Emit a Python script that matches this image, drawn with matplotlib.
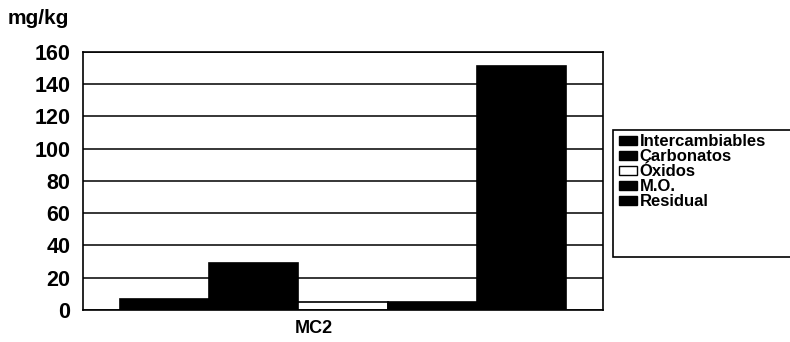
import matplotlib
matplotlib.use("Agg")
import matplotlib.pyplot as plt
from matplotlib.patches import Rectangle, Patch

plt.rcParams['font.family'] = ['Liberation Sans', 'DejaVu Sans']

# fracciones de extraccion secuencial, muestra MC2
categoria = "MC2"
fracciones = ["Intercambiables", "Carbonatos", "Óxidos", "M.O.", "Residual"]
valores = [7, 29, 5, 5, 151]
colores = ["black", "black", "white", "black", "black"]
yticks = [0, 20, 40, 60, 80, 100, 120, 140, 160]

fig = plt.figure(figsize=(7.9, 3.42), dpi=100)
ax = fig.add_axes([0.1051, 0.0936, 0.6582, 0.7544])

ax.set_axisbelow(True)
ax.yaxis.grid(True, color="black", linewidth=1.1)
for i, (v, c) in enumerate(zip(valores, colores)):
    ax.bar(i, v, width=1.0, color=c, edgecolor="black", linewidth=1.2,
           label=fracciones[i])

ax.set_xlim(-0.916, 4.916)
ax.set_ylim(0, 160)
ax.set_yticks(yticks)
ax.set_yticklabels([str(t) for t in yticks], fontsize=15.5, fontweight="bold")
ax.set_xticks([1.67])
ax.set_xticklabels([categoria], fontsize=13, fontweight="bold")
ax.tick_params(axis="both", length=0)
ax.tick_params(axis="y", pad=9)
ax.tick_params(axis="x", pad=7)
for s in ax.spines.values():
    s.set_color("black")
    s.set_linewidth(1.2)

fig.text(0.010, 0.945, "mg/kg", fontsize=15, fontweight="bold", ha="left", va="center")

# caja de la leyenda
fig.patches.append(Rectangle((613 / 790, 1 - 257 / 342), 190 / 790, 127 / 342,
                             transform=fig.transFigure, facecolor="white",
                             edgecolor="black", linewidth=1.2))
handles = [Patch(facecolor=c, edgecolor="black", linewidth=1.0) for c in colores]
leg = fig.legend(handles, fracciones, loc="upper left",
                 bbox_to_anchor=(619 / 790, 1 - 134 / 342), frameon=False,
                 prop={"size": 12, "weight": "bold"},
                 handlelength=1.05, handleheight=0.45,
                 handletextpad=0.2, labelspacing=0.0, borderpad=0.0,
                 borderaxespad=0.0)

fig.savefig("out.png", dpi=100)
